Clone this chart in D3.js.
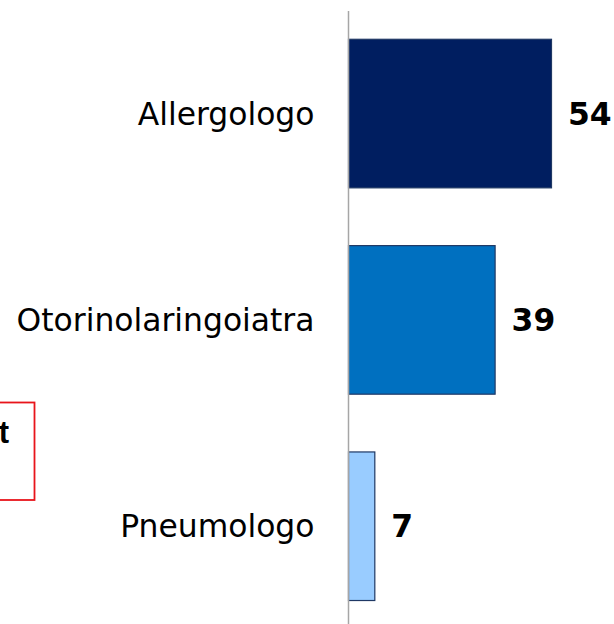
<!DOCTYPE html>
<html>
<head>
<meta charset="utf-8">
<script src="https://cdn.jsdelivr.net/npm/d3@7"></script>
<style>
html,body{margin:0;padding:0;background:#fff;}
svg{display:block;}
</style>
</head>
<body>
<svg id="chart" width="614" height="624"></svg>
<script>
const categories = ["Allergologo", "Otorinolaringoiatra", "Pneumologo"];
const values = [54, 39, 7];
const colors = ["#001E60", "#0070C0", "#99CCFF"];
const boxText = "t";

const svg = d3.select("#chart");

const x = d3.scaleLinear().domain([0, 54]).range([348.5, 551.5]);
const y = d3.scaleBand().domain(categories).range([10.4, 629.4]).paddingInner(0.28).paddingOuter(0.14);

// red note box (cut off at left)
svg.append("rect")
  .attr("x", -20).attr("y", 402.5)
  .attr("width", 54.5).attr("height", 97.5)
  .attr("fill", "#fff").attr("stroke", "#E8141B").attr("stroke-width", 1.8);
svg.append("text")
  .attr("x", 9).attr("y", 443)
  .attr("text-anchor", "end")
  .attr("font-family", "Liberation Sans, Arial, sans-serif")
  .attr("font-weight", "bold").attr("font-size", 31)
  .attr("fill", "#000")
  .text(boxText);

// bars
svg.selectAll("rect.bar").data(categories).join("rect")
  .attr("class", "bar")
  .attr("x", x(0))
  .attr("y", d => y(d))
  .attr("width", (d, i) => x(values[i]) - x(0))
  .attr("height", y.bandwidth())
  .attr("fill", (d, i) => colors[i])
  .attr("stroke", "#1F3864").attr("stroke-width", 1.2);

// axis line
const axis = d3.axisLeft(y).tickSize(0).tickFormat("");
svg.append("g").attr("transform", "translate(348,0)").call(axis)
  .call(g => g.select(".domain").attr("stroke", "#A6A6A6").attr("stroke-width", 1.5));

// category labels
svg.selectAll("text.cat").data(categories).join("text")
  .attr("class", "cat")
  .attr("x", 314.5)
  .attr("y", d => y(d) + y.bandwidth() / 2)
  .attr("dy", "0.35em")
  .attr("text-anchor", "end")
  .attr("font-family", "DejaVu Sans, Verdana, sans-serif")
  .attr("font-size", 31.4)
  .attr("fill", "#000")
  .text(d => d);

// value labels
svg.selectAll("text.val").data(categories).join("text")
  .attr("class", "val")
  .attr("x", (d, i) => x(values[i]) + 16.5)
  .attr("y", d => y(d) + y.bandwidth() / 2)
  .attr("dy", "0.35em")
  .attr("font-family", "DejaVu Sans, Verdana, sans-serif")
  .attr("font-weight", "bold")
  .attr("font-size", 31.4)
  .attr("fill", "#000")
  .text((d, i) => values[i]);
</script>
</body>
</html>
